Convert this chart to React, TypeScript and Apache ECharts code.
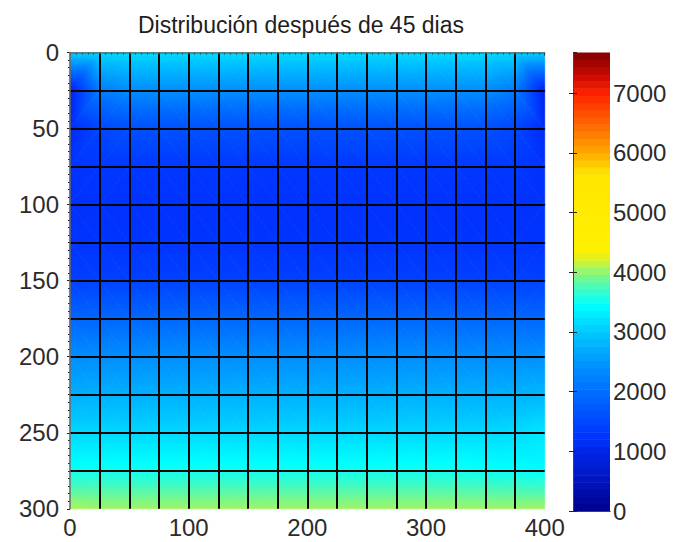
import { useEffect, useRef } from 'react';
import * as echarts from 'echarts';

const TITLE = 'Distribución después de 45 dias';
const FONT = '"Liberation Sans", Arial, Helvetica, sans-serif';

// Mesh node positions
const xNodes = [0, 25, 50, 75, 100, 125, 150, 175, 200, 225, 250, 275, 300, 325, 350, 375, 400];
const yNodes = [0, 25, 50, 75, 100, 125, 150, 175, 200, 225, 250, 275, 300];

// Node values, one row per y node (x = 0 … 400)
const rowY000 = [3100, 3150, 3170, 3170, 3170, 3170, 3170, 3170, 3170, 3170, 3170, 3170, 3170, 3170, 3170, 3130, 3050];
const rowY025 = [950, 2200, 2380, 2400, 2400, 2400, 2400, 2400, 2400, 2400, 2400, 2400, 2400, 2400, 2380, 2180, 950];
const rowY050 = [1100, 1480, 1600, 1620, 1620, 1620, 1620, 1620, 1620, 1620, 1620, 1620, 1620, 1620, 1600, 1460, 1100];
const rowY075 = [1220, 1290, 1300, 1300, 1300, 1300, 1300, 1300, 1300, 1300, 1300, 1300, 1300, 1300, 1300, 1290, 1210];
const rowY100 = [1200, 1220, 1220, 1220, 1220, 1220, 1220, 1220, 1220, 1220, 1220, 1220, 1220, 1220, 1220, 1220, 1200];
const rowY125 = [1240, 1250, 1250, 1250, 1250, 1250, 1250, 1250, 1250, 1250, 1250, 1250, 1250, 1250, 1250, 1250, 1240];
const rowY150 = [1400, 1420, 1420, 1420, 1420, 1420, 1420, 1420, 1420, 1420, 1420, 1420, 1420, 1420, 1420, 1420, 1410];
const rowY175 = [1920, 1940, 1940, 1940, 1940, 1940, 1940, 1940, 1940, 1940, 1940, 1940, 1940, 1940, 1940, 1940, 1940];
const rowY200 = [2380, 2390, 2390, 2390, 2390, 2390, 2390, 2390, 2390, 2390, 2390, 2390, 2390, 2390, 2390, 2400, 2410];
const rowY225 = [2740, 2750, 2750, 2750, 2750, 2750, 2750, 2750, 2750, 2750, 2750, 2750, 2750, 2750, 2760, 2780, 2820];
const rowY250 = [3130, 3140, 3140, 3140, 3140, 3140, 3140, 3140, 3140, 3140, 3140, 3140, 3140, 3140, 3150, 3180, 3250];
const rowY275 = [3520, 3530, 3530, 3530, 3530, 3530, 3530, 3530, 3530, 3530, 3530, 3530, 3530, 3530, 3510, 3480, 3440];
const rowY300 = [4080, 4050, 4050, 4050, 4050, 4050, 4050, 4050, 4050, 4050, 4050, 4050, 4050, 4050, 4050, 4050, 4060];

const nodeRows = [rowY000, rowY025, rowY050, rowY075, rowY100, rowY125, rowY150, rowY175, rowY200, rowY225, rowY250, rowY275, rowY300];

// Colour scale
const colorMin = 0;
const colorMax = 7680;
const colorbarInterval = 1000;
const colormapSteps = 64;
const cmapValues = [0, 400, 1000, 1250, 1500, 2000, 2500, 3000, 3450, 3750, 4050, 4330, 5650, 6000, 6500, 7000, 7300, 7680];
const cmapColors = [
  '#00008a', '#0010b4', '#0026e6', '#0034ff', '#0048ff', '#006cff', '#0098ff', '#00c8ff', '#00ffff',
  '#46fabe', '#a0f564', '#fff000', '#ffe600', '#ffaa00', '#ff6400', '#ff2300', '#c80a00', '#800000',
];

const hexToRgb = (h: string) => [
  parseInt(h.slice(1, 3), 16),
  parseInt(h.slice(3, 5), 16),
  parseInt(h.slice(5, 7), 16),
];
const cmapRgb = cmapColors.map(hexToRgb);

function colorOf(v: number): string {
  const x = Math.max(colorMin, Math.min(colorMax, v));
  let k = 0;
  while (k < cmapValues.length - 2 && x > cmapValues[k + 1]) k++;
  const t = (x - cmapValues[k]) / (cmapValues[k + 1] - cmapValues[k]);
  const a = cmapRgb[k];
  const b = cmapRgb[k + 1];
  const c = a.map((ch, i) => Math.round(ch + (b[i] - ch) * t));
  return `rgb(${c[0]},${c[1]},${c[2]})`;
}

// A triangle whose value varies linearly between its corners, painted with
// a linear gradient along the value gradient (sampled through the colormap).
function triangle(pts: number[][], vals: number[]) {
  const [A, B, C] = pts;
  const [a, b, c] = vals;
  const d1x = B[0] - A[0], d1y = B[1] - A[1];
  const d2x = C[0] - A[0], d2y = C[1] - A[1];
  const det = d1x * d2y - d1y * d2x;
  const vmin = Math.min(a, b, c);
  const vmax = Math.max(a, b, c);
  let fill: any;
  if (Math.abs(det) < 1e-6 || vmax - vmin < 1) {
    fill = colorOf((a + b + c) / 3);
  } else {
    const gx = ((b - a) * d2y - (c - a) * d1y) / det;
    const gy = ((c - a) * d1x - (b - a) * d2x) / det;
    const g2 = gx * gx + gy * gy;
    const s = (vmin - a) / g2;
    const e = (vmax - a) / g2;
    const stops = [];
    for (let k = 0; k <= 12; k++) {
      const t = k / 12;
      stops.push({ offset: t, color: colorOf(vmin + t * (vmax - vmin)) });
    }
    fill = {
      type: 'linear',
      x: A[0] + gx * s,
      y: A[1] + gy * s,
      x2: A[0] + gx * e,
      y2: A[1] + gy * e,
      colorStops: stops,
      global: true,
    };
  }
  return {
    type: 'polygon',
    shape: { points: pts },
    style: { fill, stroke: fill, lineWidth: 0.8 },
  };
}

const meshCells: number[][] = [];
for (let j = 0; j < yNodes.length - 1; j++) {
  for (let i = 0; i < xNodes.length - 1; i++) meshCells.push([i, j]);
}

function renderCell(_params: any, api: any) {
  const i = api.value(0);
  const j = api.value(1);
  const corners = [
    [xNodes[i], yNodes[j], nodeRows[j][i]],
    [xNodes[i + 1], yNodes[j], nodeRows[j][i + 1]],
    [xNodes[i + 1], yNodes[j + 1], nodeRows[j + 1][i + 1]],
    [xNodes[i], yNodes[j + 1], nodeRows[j + 1][i]],
  ];
  const pts = corners.map((c) => api.coord([c[0], c[1]]));
  const vals = corners.map((c) => c[2]);
  const mean = (vals[0] + vals[1] + vals[2] + vals[3]) / 4;
  let far = 0;
  vals.forEach((v, k) => {
    if (Math.abs(v - mean) > Math.abs(vals[far] - mean)) far = k;
  });
  const tris = far % 2 === 0 ? [[0, 1, 2], [0, 2, 3]] : [[1, 2, 3], [1, 3, 0]];
  return {
    type: 'group',
    children: tris.map((t) => triangle(t.map((k) => pts[k]), t.map((k) => vals[k]))),
  };
}

const colorbarBands = Array.from({ length: colormapSteps }, (_, k) => [0, k]);

function renderBand(_params: any, api: any) {
  const k = api.value(1);
  const lo = colorMin + ((colorMax - colorMin) * k) / colormapSteps;
  const hi = colorMin + ((colorMax - colorMin) * (k + 1)) / colormapSteps;
  const p0 = api.coord([0, hi]);
  const p1 = api.coord([1, lo]);
  return {
    type: 'rect',
    shape: { x: p0[0], y: p0[1], width: p1[0] - p0[0], height: p1[1] - p0[1] + 0.5 },
    style: { fill: colorOf((lo + hi) / 2) },
  };
}

const labelStyle = { fontSize: 24, fontFamily: FONT, color: '#2b2b2b' };

const option: any = {
  animation: false,
  backgroundColor: '#ffffff',
  title: {
    text: TITLE,
    left: 301,
    top: 24.5,
    padding: 0,
    textAlign: 'center',
    textVerticalAlign: 'middle',
    textStyle: { fontSize: 23, fontWeight: 'normal', fontFamily: FONT, color: '#1e1e1e' },
  },
  grid: [
    { left: 70, top: 52.5, width: 474.7, height: 456.3 },
    { left: 573, top: 52.5, width: 37, height: 458.5 },
  ],
  xAxis: [
    {
      gridIndex: 0, type: 'value', min: 0, max: 400, interval: 100, position: 'bottom', z: 3,
      axisLine: { show: false },
      axisTick: { show: true, length: 3, lineStyle: { color: '#222' } },
      minorTick: { show: true, splitNumber: 20, length: 2, lineStyle: { color: '#222' } },
      splitLine: { show: false },
      axisLabel: { ...labelStyle, margin: 7 },
    },
    {
      gridIndex: 0, type: 'value', min: 0, max: 400, interval: 25, position: 'top', z: 4,
      axisLine: { show: true, lineStyle: { color: '#6a6a6a', width: 1.5 } },
      axisTick: { show: false },
      axisLabel: { show: false },
      splitLine: { show: true, showMinLine: false, showMaxLine: false, lineStyle: { color: '#050505', width: 2 } },
    },
    {
      gridIndex: 1, type: 'value', min: 0, max: 1, position: 'bottom', z: 3,
      axisLine: { show: true, lineStyle: { color: '#444', width: 1 } },
      axisTick: { show: false }, axisLabel: { show: false }, splitLine: { show: false },
    },
    {
      gridIndex: 1, type: 'value', min: 0, max: 1, position: 'top', z: 3,
      axisLine: { show: true, lineStyle: { color: '#444', width: 1 } },
      axisTick: { show: false }, axisLabel: { show: false }, splitLine: { show: false },
    },
  ],
  yAxis: [
    {
      gridIndex: 0, type: 'value', inverse: true, min: 0, max: 300, interval: 50, position: 'left', z: 3,
      axisLine: { show: false },
      axisTick: { show: true, length: 3, lineStyle: { color: '#222' } },
      minorTick: { show: true, splitNumber: 10, length: 2, lineStyle: { color: '#222' } },
      splitLine: { show: false },
      axisLabel: { ...labelStyle, margin: 11 },
    },
    {
      gridIndex: 0, type: 'value', inverse: true, min: 0, max: 300, interval: 25, position: 'right', z: 4,
      axisLine: { show: true, lineStyle: { color: '#6a6a6a', width: 1.5 } },
      axisTick: { show: false },
      axisLabel: { show: false },
      splitLine: { show: true, showMinLine: false, showMaxLine: false, lineStyle: { color: '#050505', width: 2 } },
    },
    {
      gridIndex: 1, type: 'value', min: colorMin, max: colorMax, interval: colorbarInterval, position: 'right', z: 3,
      axisLine: { show: true, lineStyle: { color: '#444', width: 1 } },
      axisTick: { show: true, inside: true, length: 4, lineStyle: { color: '#222' } },
      splitLine: { show: false },
      axisLabel: {
        ...labelStyle, margin: 3, showMaxLabel: false,
        formatter: (v: number) => (v % colorbarInterval === 0 ? String(v) : ''),
      },
    },
    {
      gridIndex: 1, type: 'value', min: colorMin, max: colorMax, interval: colorbarInterval, position: 'left', z: 3,
      axisLine: { show: true, lineStyle: { color: '#444', width: 1 } },
      axisTick: { show: true, inside: true, length: 4, lineStyle: { color: '#222' } },
      splitLine: { show: false },
      axisLabel: { show: false },
    },
  ],
  series: [
    {
      type: 'custom',
      xAxisIndex: 0,
      yAxisIndex: 0,
      silent: true,
      z: 2,
      data: meshCells,
      renderItem: renderCell,
    },
    {
      type: 'custom',
      xAxisIndex: 2,
      yAxisIndex: 2,
      silent: true,
      z: 2,
      data: colorbarBands,
      renderItem: renderBand,
    },
  ],
};

export default function App() {
  const ref = useRef<HTMLDivElement>(null);
  useEffect(() => {
    const chart = echarts.init(ref.current as HTMLDivElement, null, { renderer: 'svg' });
    chart.setOption(option);
    return () => chart.dispose();
  }, []);
  return (
    <div
      ref={ref}
      style={{ position: 'fixed', left: 0, top: 0, width: 673, height: 542, background: '#fff' }}
    />
  );
}
